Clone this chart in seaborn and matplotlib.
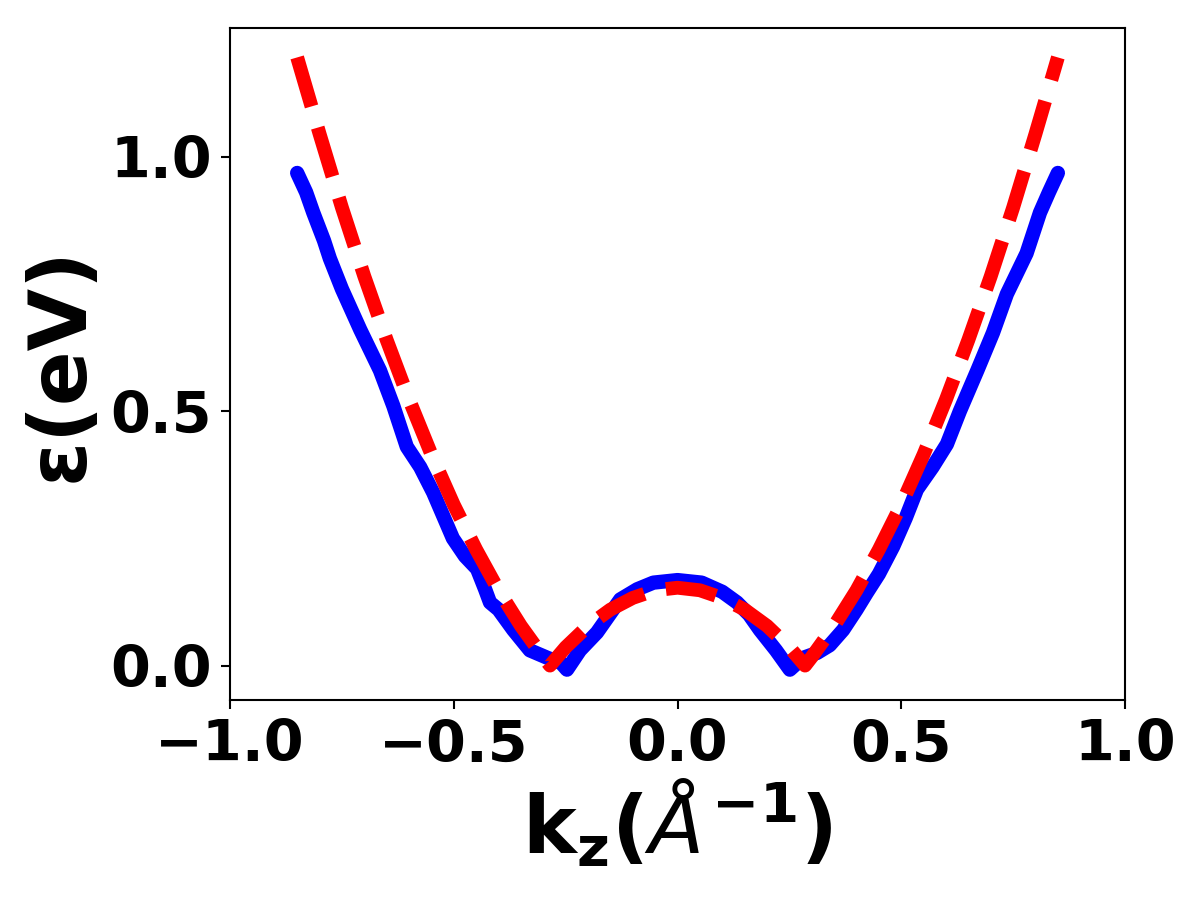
import numpy as np
import pandas as pd
import seaborn as sns
import matplotlib
matplotlib.use("Agg")
import matplotlib.pyplot as plt

# Blue (computed band) data
k_blue = [-0.850, -0.830, -0.814, -0.790, -0.777, -0.750, -0.709, -0.665, -0.635, -0.605,
          -0.575, -0.546, -0.502, -0.475, -0.448, -0.430, -0.419, -0.400, -0.367, -0.330,
          -0.290, -0.260, -0.247, -0.218, -0.180, -0.128, -0.090, -0.054, 0.000, 0.054,
          0.100, 0.133, 0.160, 0.184, 0.220, 0.251, 0.280, 0.312, 0.340, 0.370,
          0.400, 0.423, 0.450, 0.482, 0.510, 0.535, 0.570, 0.602, 0.631, 0.670,
          0.705, 0.736, 0.780, 0.810, 0.830, 0.850]
e_blue = [0.968, 0.930, 0.890, 0.835, 0.800, 0.740, 0.660, 0.580, 0.510, 0.430,
          0.390, 0.340, 0.250, 0.215, 0.190, 0.150, 0.124, 0.110, 0.070, 0.030,
          0.015, 0.005, -0.008, 0.030, 0.065, 0.130, 0.150, 0.163, 0.168, 0.163,
          0.145, 0.124, 0.100, 0.070, 0.030, -0.008, 0.015, 0.025, 0.040, 0.070,
          0.110, 0.143, 0.180, 0.234, 0.290, 0.346, 0.390, 0.435, 0.500, 0.580,
          0.654, 0.730, 0.810, 0.890, 0.930, 0.968]

# Red (model) dashed curve
k_red = [-0.85, -0.80, -0.75, -0.70, -0.65, -0.60, -0.55, -0.50, -0.45, -0.40,
         -0.35, -0.30, -0.285, -0.25, -0.20, -0.15, -0.10, -0.05, 0.00, 0.05,
         0.10, 0.15, 0.20, 0.25, 0.285, 0.30, 0.35, 0.40, 0.45, 0.50,
         0.55, 0.60, 0.65, 0.70, 0.75, 0.80, 0.85]
e_red = [1.195, 1.045, 0.900, 0.765, 0.640, 0.523, 0.415, 0.316, 0.228, 0.148,
         0.078, 0.017, 0.000, 0.036, 0.078, 0.110, 0.133, 0.148, 0.153, 0.148,
         0.133, 0.110, 0.078, 0.036, 0.000, 0.017, 0.078, 0.148, 0.228, 0.316,
         0.415, 0.523, 0.640, 0.765, 0.900, 1.045, 1.195]

x_ticks = [-1.0, -0.5, 0.0, 0.5, 1.0]
y_ticks = [0.0, 0.5, 1.0]

sns.set_style("ticks")
plt.rcParams['font.family'] = ['DejaVu Sans']
plt.rcParams['text.color'] = 'black'
plt.rcParams['axes.labelcolor'] = 'black'
plt.rcParams['xtick.color'] = 'black'
plt.rcParams['ytick.color'] = 'black'

fig, ax = plt.subplots(figsize=(6.4, 4.8), dpi=187.5)
fig.subplots_adjust(left=0.1917, right=0.9375, top=0.969, bottom=0.222)

df_b = pd.DataFrame({"k": k_blue, "e": e_blue})
df_r = pd.DataFrame({"k": k_red, "e": e_red})
sns.lineplot(data=df_b, x="k", y="e", color="blue", lw=5.5, ax=ax, sort=False,
             solid_capstyle="round", solid_joinstyle="round")
sns.lineplot(data=df_r, x="k", y="e", color="red", lw=5.3, ax=ax, sort=False,
             linestyle="--")

ax.set_xlim(-1.0, 1.0)
ax.set_ylim(-0.068, 1.253)
ax.set_xticks(x_ticks)
ax.set_yticks(y_ticks)
ax.set_xticklabels([f"{v:.1f}".replace("-", "\u2212") for v in x_ticks],
                   fontsize=22, fontweight="bold")
ax.set_yticklabels([f"{v:.1f}" for v in y_ticks], fontsize=22, fontweight="bold")
ax.tick_params(axis="both", color="black", length=3.5, width=0.8, pad=3.5)
for s in ax.spines.values():
    s.set_visible(True)
    s.set_color("black")
    s.set_linewidth(0.8)

ax.set_xlabel(r"k$_\mathbf{z}$($\AA^{\mathbf{-1}}$)", fontsize=31, fontweight="bold",
              labelpad=2)
ax.set_ylabel("\u03b5(eV)", fontsize=31, fontweight="bold", labelpad=4)

fig.savefig("out.png", dpi=187.5)
